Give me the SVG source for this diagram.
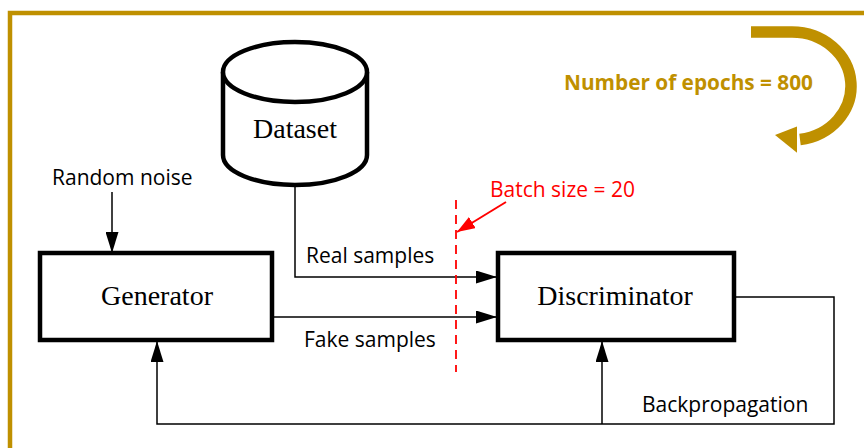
<svg xmlns="http://www.w3.org/2000/svg" width="864" height="448" viewBox="0 0 864 448">
<style>
.box{fill:#fff;stroke:#000;stroke-width:4.5;stroke-linejoin:miter}
.serif{font-family:"Liberation Serif","Times New Roman",serif;font-size:28px;fill:#000}
.sans{font-family:"Open Sans","Liberation Sans",sans-serif;font-size:21px;fill:#000}
.conn{fill:none;stroke:#000;stroke-width:1.5}
.gold{fill:#BF9000}
</style>
<defs>
<marker id="ah" markerUnits="userSpaceOnUse" markerWidth="21" markerHeight="13" refX="21" refY="6.5" orient="auto">
<path d="M0,0 L21,6.5 L0,13 z" fill="#000"/>
</marker>
<marker id="ahr" markerUnits="userSpaceOnUse" markerWidth="18" markerHeight="13" refX="18" refY="6.5" orient="auto">
<path d="M0,0 L18,6.5 L0,13 z" fill="#FF0000"/>
</marker>
</defs>
<rect width="864" height="448" fill="#fff"/>
<rect x="10" y="13" width="900" height="500" fill="none" stroke="#BF9000" stroke-width="4.5"/>

<g id="epochs">
<path d="M751,32 L792,32 A59,54 0 0 1 800,139.5" fill="none" stroke="#BF9000" stroke-width="11.5"/>
<polygon class="gold" points="775,135 797,126.5 797,152.7"/>
<text x="564" y="90" font-family="'Open Sans','Liberation Sans',sans-serif" font-weight="bold" font-size="20.8" fill="#BF9000">Number of epochs = 800</text>
</g>

<g id="connectors">
<line class="conn" x1="112" y1="192" x2="112" y2="253" marker-end="url(#ah)"/>
<path class="conn" d="M295,187 V277 H497" marker-end="url(#ah)"/>
<path class="conn" d="M272,317 H497" marker-end="url(#ah)"/>
<path class="conn" d="M734,297 H834 V424 H157 V341" marker-end="url(#ah)"/>
<path class="conn" d="M602,424 V341" marker-end="url(#ah)"/>
<line x1="456" y1="200" x2="456" y2="372" stroke="#FF0000" stroke-width="1.8" stroke-dasharray="9,6"/>
<line x1="506" y1="202" x2="457" y2="232" stroke="#FF0000" stroke-width="2" marker-end="url(#ahr)"/>
</g>

<g id="dataset">
<path d="M223,72 V155 A72,30 0 0 0 367,155 V72" fill="#fff" stroke="#000" stroke-width="4.5"/>
<ellipse cx="295" cy="72" rx="72" ry="30" fill="#fff" stroke="#000" stroke-width="4.5"/>
<text class="serif" x="295" y="138" text-anchor="middle">Dataset</text>
</g>

<g id="generator">
<rect class="box" x="40" y="253" width="232" height="87"/>
<text class="serif" x="157" y="305" text-anchor="middle">Generator</text>
</g>

<g id="discriminator">
<rect class="box" x="498" y="253" width="236" height="87"/>
<text class="serif" x="615" y="305" text-anchor="middle">Discriminator</text>
</g>

<g id="labels">
<text class="sans" x="52" y="185">Random noise</text>
<text class="sans" x="306" y="263">Real samples</text>
<text class="sans" x="304" y="347">Fake samples</text>
<text class="sans" x="490" y="197" fill="#FF0000" style="fill:#FF0000">Batch size = 20</text>
<text class="sans" x="642" y="412">Backpropagation</text>
</g>
</svg>
